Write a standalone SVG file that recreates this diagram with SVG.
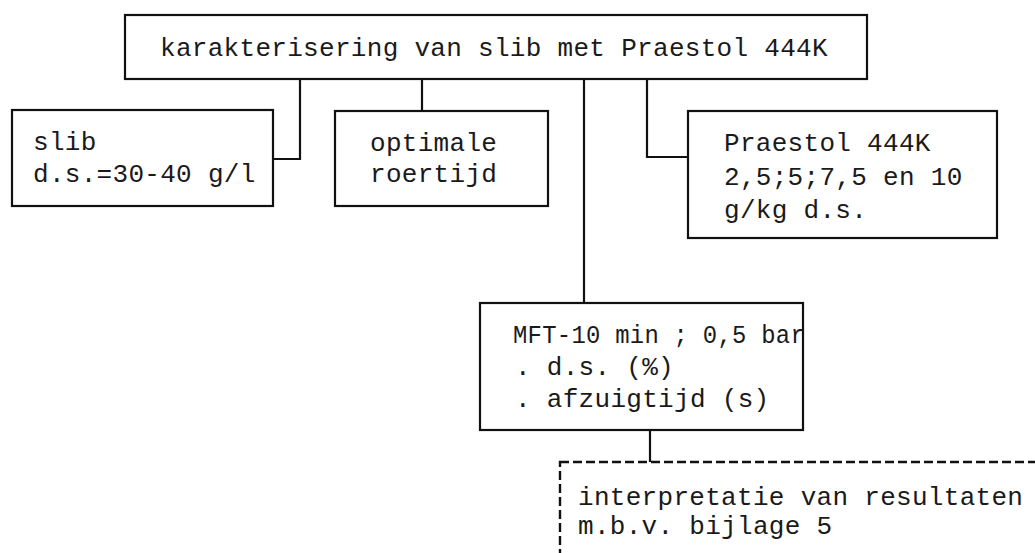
<svg xmlns="http://www.w3.org/2000/svg" width="1035" height="553" viewBox="0 0 1035 553">
<style>
.box{fill:#fff;stroke:#111;stroke-width:2.2}
.dash{fill:none;stroke:#111;stroke-width:2.4;stroke-dasharray:9 4}
.con{fill:none;stroke:#111;stroke-width:2.2}
.t{font-family:"Liberation Mono","Courier New",monospace;font-size:26px;letter-spacing:0.3px;fill:#1a1a1a}
</style>
<rect width="1035" height="553" fill="#fff"/>
<g id="connectors">
<path class="con" d="M273,159 H300 V79"/>
<path class="con" d="M422,79 V111"/>
<path class="con" d="M647,79 V157 H688"/>
<path class="con" d="M584,79 V303"/>
<path class="con" d="M650,430 V462"/>
</g>
<g id="node-top">
<rect class="box" x="125" y="15" width="742" height="64"/>
<text class="t" x="160" y="56">karakterisering van slib met Praestol 444K</text>
</g>
<g id="node-slib">
<rect class="box" x="12" y="110" width="261" height="96"/>
<text class="t" x="33" y="150">slib</text>
<text class="t" x="33" y="182">d.s.=30-40 g/l</text>
</g>
<g id="node-roertijd">
<rect class="box" x="335" y="111" width="213" height="95"/>
<text class="t" x="370" y="151">optimale</text>
<text class="t" x="370" y="182">roertijd</text>
</g>
<g id="node-praestol">
<rect class="box" x="688" y="111" width="309" height="127"/>
<text class="t" x="724" y="151">Praestol 444K</text>
<text class="t" x="724" y="185">2,5;5;7,5 en 10</text>
<text class="t" x="724" y="218">g/kg d.s.</text>
</g>
<g id="node-mft">
<rect class="box" x="480" y="303" width="323" height="127"/>
<text class="t" x="513" y="343" textLength="292" lengthAdjust="spacingAndGlyphs">MFT-10 min ; 0,5 bar</text>
<text class="t" x="515" y="375">. d.s. (%)</text>
<text class="t" x="515" y="407">. afzuigtijd (s)</text>
</g>
<g id="node-interpretatie">
<rect class="dash" x="560" y="462" width="500" height="120"/>
<text class="t" x="578" y="505">interpretatie van resultaten</text>
<text class="t" x="578" y="534">m.b.v. bijlage 5</text>
</g>
</svg>
